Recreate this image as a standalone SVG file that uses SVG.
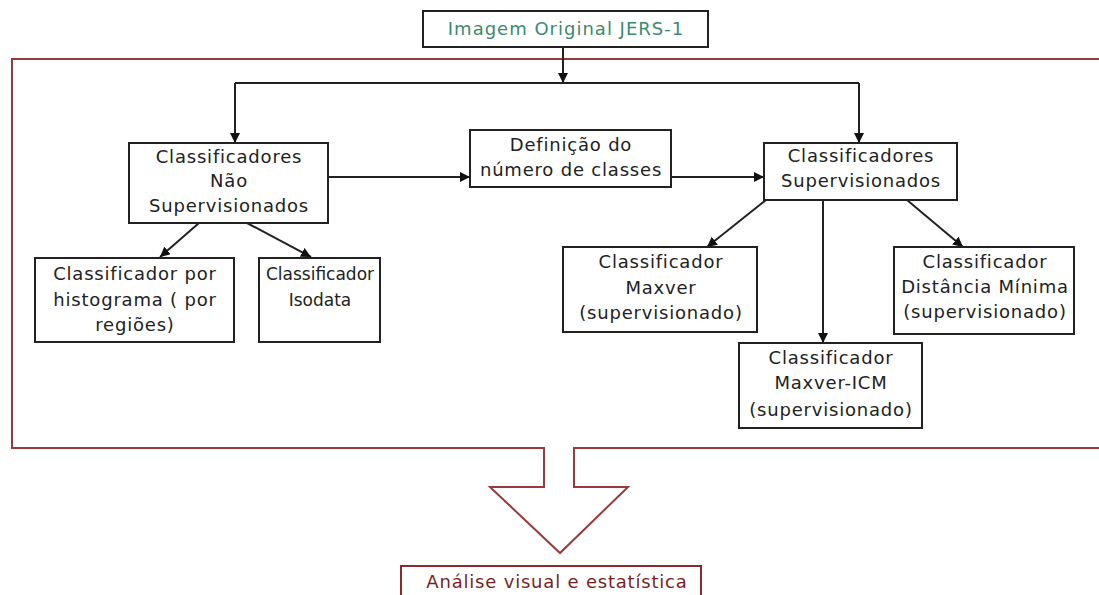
<svg xmlns="http://www.w3.org/2000/svg" width="1099" height="595" viewBox="0 0 1099 595">
<defs>
<marker id="ah" viewBox="0 0 10 10" refX="10" refY="5" markerWidth="10" markerHeight="10" markerUnits="userSpaceOnUse" orient="auto">
<path d="M0,0 L10,5 L0,10 z" fill="#111"/>
</marker>
</defs>
<style>
.box{fill:#fff;stroke:#222;stroke-width:2}
.t{font-family:"DejaVu Sans",sans-serif;font-size:18px;letter-spacing:0.8px;fill:#222;text-anchor:middle}
.c{fill:none;stroke:#222;stroke-width:2}
</style>
<rect width="1099" height="595" fill="#fff"/>
<g id="frame">
<path d="M1105,59 H12 V448 H544 V487 H490 L560,553 L628,487 H574 V448 H1105" fill="none" stroke="#9a3a3a" stroke-width="2"/>
</g>
<g id="connectors">
<path class="c" d="M563,47 V83" marker-end="url(#ah)"/>
<path class="c" d="M235,83 H859"/>
<path class="c" d="M235,83 V143" marker-end="url(#ah)"/>
<path class="c" d="M859,83 V143" marker-end="url(#ah)"/>
<path class="c" d="M328,177 H470" marker-end="url(#ah)"/>
<path class="c" d="M671,177 H764" marker-end="url(#ah)"/>
<path class="c" d="M199,223 L160,257" marker-end="url(#ah)"/>
<path class="c" d="M247,223 L311,257" marker-end="url(#ah)"/>
<path class="c" d="M766,200 L707,247" marker-end="url(#ah)"/>
<path class="c" d="M823,200 V343" marker-end="url(#ah)"/>
<path class="c" d="M907,200 L963,247" marker-end="url(#ah)"/>
</g>
<g id="n-original">
<rect class="box" x="423" y="11" width="285" height="36"/>
<text class="t" x="566" y="35" style="fill:#3b8a72;letter-spacing:1px">Imagem Original JERS-1</text>
</g>
<g id="n-naosup">
<rect class="box" x="129" y="143" width="199" height="80"/>
<text class="t" x="229" y="163">Classificadores</text>
<text class="t" x="229" y="187">Não</text>
<text class="t" x="229" y="212">Supervisionados</text>
</g>
<g id="n-def">
<rect class="box" x="470" y="130" width="201" height="57"/>
<text class="t" x="571" y="151">Definição do</text>
<text class="t" x="571" y="176">número de classes</text>
</g>
<g id="n-sup">
<rect class="box" x="764" y="143" width="193" height="57"/>
<text class="t" x="861" y="162">Classificadores</text>
<text class="t" x="861" y="187">Supervisionados</text>
</g>
<g id="n-hist">
<rect class="box" x="35" y="258" width="199" height="84"/>
<text class="t" x="135" y="280">Classificador por</text>
<text class="t" x="135" y="306">histograma ( por</text>
<text class="t" x="135" y="331">regiões)</text>
</g>
<g id="n-iso">
<rect class="box" x="259" y="258" width="121" height="84"/>
<text class="t" x="320" y="280" style="font-size:17px;letter-spacing:0">Classificador</text>
<text class="t" x="320" y="306" style="font-size:17px;letter-spacing:0">Isodata</text>
</g>
<g id="n-maxver">
<rect class="box" x="563" y="247" width="194" height="85"/>
<text class="t" x="661" y="268">Classificador</text>
<text class="t" x="661" y="294">Maxver</text>
<text class="t" x="661" y="319">(supervisionado)</text>
</g>
<g id="n-dist">
<rect class="box" x="894" y="247" width="180" height="87"/>
<text class="t" x="985" y="268">Classificador</text>
<text class="t" x="985" y="293">Distância Mínima</text>
<text class="t" x="985" y="318">(supervisionado)</text>
</g>
<g id="n-icm">
<rect class="box" x="739" y="343" width="183" height="85"/>
<text class="t" x="831" y="364">Classificador</text>
<text class="t" x="831" y="389">Maxver-ICM</text>
<text class="t" x="831" y="416">(supervisionado)</text>
</g>
<g id="n-analise">
<rect x="401" y="566" width="300" height="40" fill="#fff" stroke="#8a2a2a" stroke-width="2"/>
<text class="t" x="557" y="588" style="fill:#7a1f1f">Análise visual e estatística</text>
</g>
</svg>
